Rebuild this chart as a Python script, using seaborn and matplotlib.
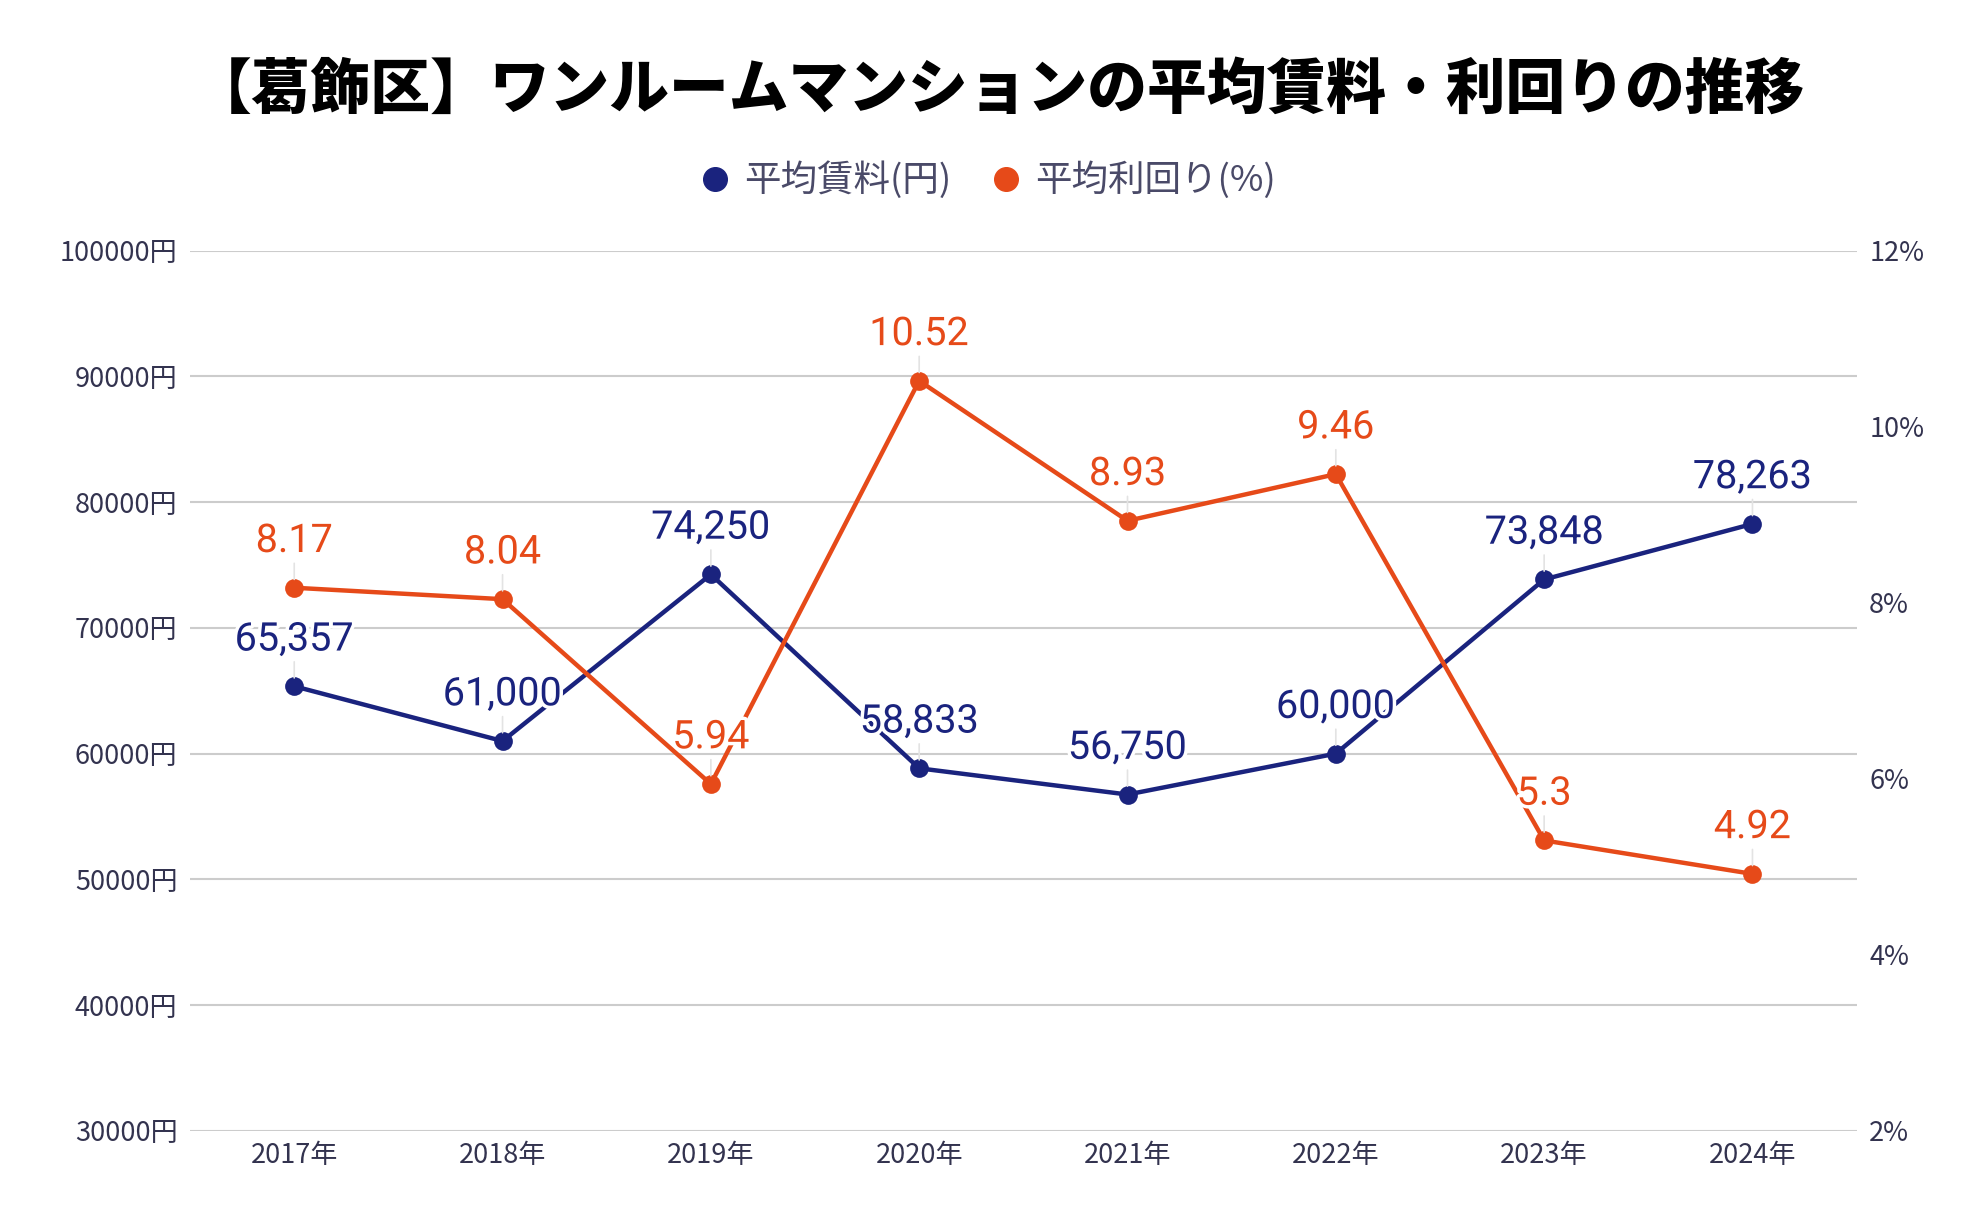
import pandas as pd
import numpy as np
import seaborn as sns
import matplotlib.pyplot as plt
import matplotlib.patheffects as pe
from matplotlib.lines import Line2D

# data
years = ["2017年", "2018年", "2019年", "2020年", "2021年", "2022年", "2023年", "2024年"]
rent = [65357, 61000, 74250, 58833, 56750, 60000, 73848, 78263]
yield_pct = [8.17, 8.04, 5.94, 10.52, 8.93, 9.46, 5.3, 4.92]
rent_ticks = [30000, 40000, 50000, 60000, 70000, 80000, 90000, 100000]
yield_ticks = [2, 4, 6, 8, 10, 12]

title = "【葛飾区】ワンルームマンションの平均賃料・利回りの推移"
rent_name = "平均賃料(円)"
yield_name = "平均利回り(%)"

blue = "#1a237e"
orange = "#e64a19"
tick_col = "#33334f"

data = pd.DataFrame({"pos": np.arange(len(years)), "rent": rent, "yield": yield_pct})

sns.set_style("white")
plt.rcParams['font.family'] = ['Noto Sans CJK JP', 'DejaVu Sans']

fig = plt.figure(figsize=(19.84, 12.28), dpi=100)
ax = fig.add_axes([0.0958, 0.079, 0.840, 0.717])
ax2 = ax.twinx()

sns.lineplot(data=data, x="pos", y="rent", ax=ax, color=blue, linewidth=3.2,
             marker="o", markersize=13.5, markeredgewidth=0)
sns.lineplot(data=data, x="pos", y="yield", ax=ax2, color=orange, linewidth=3.2,
             marker="o", markersize=13.5, markeredgewidth=0)

ax.set_xlim(-0.5, len(years) - 0.5)
ax.set_ylim(30000, 100000)
ax2.set_ylim(2, 12)
ax.set_xticks(data["pos"])
ax.set_xticklabels(years)
ax.set_yticks(rent_ticks)
ax.set_yticklabels([f"{t}円" for t in rent_ticks])
ax2.set_yticks(yield_ticks)
ax2.set_yticklabels([f"{t}%" for t in yield_ticks])
ax.set_xlabel("")
ax.set_ylabel("")
ax2.set_ylabel("")

ax.grid(axis="y", color="#cccccc", linewidth=1.5)
ax.grid(axis="x", visible=False)
ax2.grid(False)
for a in (ax, ax2):
    for s in a.spines.values():
        s.set_visible(False)
ax.tick_params(axis="y", length=0, pad=9, labelsize=19.5, labelcolor=tick_col)
ax.tick_params(axis="x", length=0, pad=8, labelsize=19.5, labelcolor=tick_col)
ax2.tick_params(axis="y", length=0, pad=9, labelsize=19.5, labelcolor=tick_col)

halo = [pe.withStroke(linewidth=5, foreground="white")]
for i in range(len(years)):
    ax.annotate(f"{rent[i]:,}", (i, rent[i]), xytext=(0, 34), textcoords="offset points",
                ha="center", va="center", fontsize=28.5, color=blue, family="Roboto",
                path_effects=halo, zorder=5,
                arrowprops=dict(arrowstyle="-", color="#e3e3e3", lw=1.2, shrinkA=0, shrinkB=6))
    ax2.annotate(f"{yield_pct[i]:g}", (i, yield_pct[i]), xytext=(0, 34), textcoords="offset points",
                 ha="center", va="center", fontsize=28.5, color=orange, family="Roboto",
                 path_effects=halo, zorder=5,
                 arrowprops=dict(arrowstyle="-", color="#e3e3e3", lw=1.2, shrinkA=0, shrinkB=6))

fig.text(0.503, 0.927, title, ha="center", va="center", fontsize=43, fontweight="heavy", color="black")

handles = [Line2D([], [], linestyle="none", marker="o", markersize=17, color=blue),
           Line2D([], [], linestyle="none", marker="o", markersize=17, color=orange)]
fig.legend(handles, [rent_name, yield_name], loc="center", bbox_to_anchor=(0.497, 0.853),
           ncol=2, frameon=False, fontsize=26.3, labelcolor="#4a4a68",
           handletextpad=0.3, columnspacing=1.0, handlelength=1.0)

fig.savefig("out.png", dpi=100)
